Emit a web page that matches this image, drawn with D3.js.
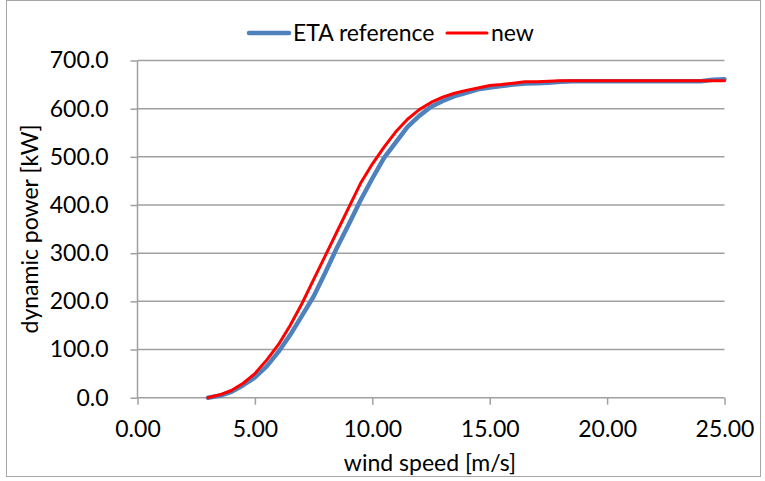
<!DOCTYPE html>
<html>
<head>
<meta charset="utf-8">
<script src="https://cdn.jsdelivr.net/npm/d3@7"></script>
<style>
  html, body { margin: 0; padding: 0; background: #fff; }
  svg text { font-family: Lato, "Liberation Sans", sans-serif; fill: #000; }
</style>
</head>
<body>
<svg id="chart" width="765" height="481"></svg>
<script>
// Wind speed (m/s) sampled every 0.5 m/s from cut-in to cut-out
const windSpeed = [3.0, 3.5, 4.0, 4.5, 5.0, 5.5, 6.0, 6.5, 7.0, 7.5, 8.0, 8.5, 9.0, 9.5,
  10.0, 10.5, 11.0, 11.5, 12.0, 12.5, 13.0, 13.5, 14.0, 14.5, 15.0, 15.5, 16.0, 16.5,
  17.0, 17.5, 18.0, 18.5, 19.0, 19.5, 20.0, 20.5, 21.0, 21.5, 22.0, 22.5, 23.0, 23.5,
  24.0, 24.5, 25.0];

// Dynamic power (kW), ETA reference curve
const etaReference = [0, 4, 12, 26, 42, 65, 95, 130, 170, 210, 260, 312, 360, 410,
  455, 498, 530, 562, 585, 604, 616, 626, 633, 640, 644, 647, 650, 652,
  653, 654, 656, 657, 657, 657, 657, 657, 657, 657, 657, 657, 657, 657,
  657, 660, 661];

// Dynamic power (kW), new curve
const newCurve = [0, 6, 15, 30, 50, 78, 110, 150, 195, 245, 295, 345, 395, 445,
  485, 520, 552, 578, 598, 613, 624, 632, 638, 643, 648, 650, 653, 656,
  656, 657, 658, 658, 658, 658, 658, 658, 658, 658, 658, 658, 658, 658,
  658, 658, 658];

const xTicks = [0, 5, 10, 15, 20, 25];
const yTicks = [0, 100, 200, 300, 400, 500, 600, 700];

const seriesNames = ["ETA reference", "new"];
const seriesColors = ["#4F81BD", "#FF0000"];

const fontSize = 23;
const svg = d3.select("#chart");

// chart frame
svg.append("rect")
  .attr("x", 6.5).attr("y", 0.5)
  .attr("width", 754).attr("height", 476)
  .attr("fill", "#fff").attr("stroke", "#A6A6A6").attr("stroke-width", 1);

const plot = { left: 137.5, right: 724.5, top: 60.5, bottom: 397.7 };

const x = d3.scaleLinear().domain([0, 25]).range([plot.left, plot.right]);
const y = d3.scaleLinear().domain([0, 700]).range([plot.bottom, plot.top]);

// horizontal gridlines
svg.append("g")
  .selectAll("line")
  .data(yTicks.filter(d => d > 0))
  .join("line")
  .attr("x1", plot.left).attr("x2", plot.right)
  .attr("y1", d => y(d)).attr("y2", d => y(d))
  .attr("stroke", "#A0A0A0").attr("stroke-width", 1.5);

// y axis
const yAxis = svg.append("g")
  .attr("transform", `translate(${plot.left},0)`)
  .call(d3.axisLeft(y).tickValues(yTicks).tickSize(7).tickPadding(22)
    .tickFormat(d3.format(".1f")));
yAxis.select(".domain").attr("stroke", "#A0A0A0").attr("stroke-width", 1.5)
  .attr("d", `M0,${plot.top}V${plot.bottom}`);
yAxis.selectAll(".tick line").attr("stroke", "#A0A0A0").attr("stroke-width", 1.5);
yAxis.selectAll(".tick text").attr("font-size", fontSize).attr("fill", "#000");

// x axis
const xAxis = svg.append("g")
  .attr("transform", `translate(0,${plot.bottom})`)
  .call(d3.axisBottom(x).tickValues(xTicks).tickSize(7).tickPadding(16)
    .tickFormat(d3.format(".2f")));
xAxis.select(".domain").attr("stroke", "#A0A0A0").attr("stroke-width", 1.5)
  .attr("d", `M${plot.left},0H${plot.right}`);
xAxis.selectAll(".tick line").attr("stroke", "#A0A0A0").attr("stroke-width", 1.5);
xAxis.selectAll(".tick text").attr("font-size", fontSize).attr("fill", "#000");

// axis titles
svg.append("text")
  .attr("x", (plot.left + plot.right) / 2 - 1).attr("y", 471)
  .attr("text-anchor", "middle").attr("font-size", fontSize)
  .text("wind speed [m/s]");

svg.append("text")
  .attr("transform", `translate(38,229) rotate(-90)`)
  .attr("text-anchor", "middle").attr("font-size", fontSize)
  .text("dynamic power [kW]");

// series lines
const line = d3.line()
  .x((d, i) => x(windSpeed[i]))
  .y(d => y(d));

svg.append("path")
  .datum(etaReference)
  .attr("d", line)
  .attr("fill", "none")
  .attr("stroke", seriesColors[0]).attr("stroke-width", 4.5)
  .attr("stroke-linejoin", "round").attr("stroke-linecap", "round");

svg.append("path")
  .datum(newCurve)
  .attr("d", line)
  .attr("fill", "none")
  .attr("stroke", seriesColors[1]).attr("stroke-width", 3)
  .attr("stroke-linejoin", "round").attr("stroke-linecap", "round");

// legend
const legendItems = [
  { name: seriesNames[0], color: seriesColors[0], width: 4.5, x: 249 },
  { name: seriesNames[1], color: seriesColors[1], width: 3, x: 447 }
];
const lg = svg.append("g");
legendItems.forEach(item => {
  lg.append("line")
    .attr("x1", item.x).attr("x2", item.x + 40)
    .attr("y1", 33).attr("y2", 33)
    .attr("stroke", item.color).attr("stroke-width", item.width)
    .attr("stroke-linecap", "round");
  lg.append("text")
    .attr("x", item.x + 44).attr("y", 41)
    .attr("font-size", fontSize)
    .text(item.name);
});
</script>
</body>
</html>
